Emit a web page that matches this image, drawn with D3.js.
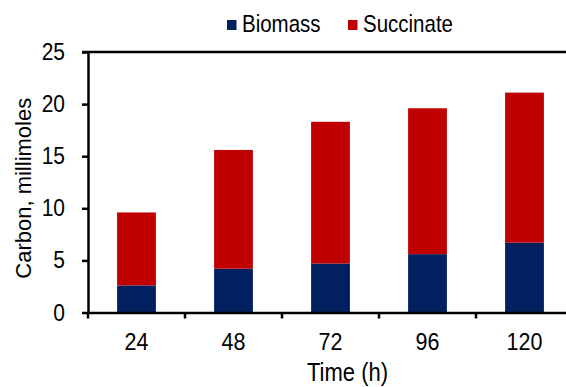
<!DOCTYPE html>
<html>
<head>
<meta charset="utf-8">
<script src="https://cdn.jsdelivr.net/npm/d3@7"></script>
<style>
  html, body { margin: 0; padding: 0; background: #fff; }
  svg { display: block; font-family: "Liberation Sans", Arial, sans-serif; }
</style>
</head>
<body>
<div id="chart"></div>
<script>
// chart data
const times = ['24', '48', '72', '96', '120'];
const biomass = [2.6, 4.2, 4.7, 5.6, 6.7];
const succinate = [7.0, 11.4, 13.6, 14.0, 14.4];
const yTicks = [0, 5, 10, 15, 20, 25];
const seriesNames = ['Biomass', 'Succinate'];
const seriesColors = ['#002060', '#c00000'];

const width = 566;
const height = 387;
const margin = { top: 52, left: 88, bottom: 74 };
const stretch = 1.15; // the original text is a bit taller than wide

const svg = d3.select('#chart')
  .append('svg')
  .attr('width', width)
  .attr('height', height);

const plotRight = 573; // plot runs slightly past the window edge
const plotBottom = height - margin.bottom - 0.5;

const rows = times.map((t, i) => ({ time: t, Biomass: biomass[i], Succinate: succinate[i] }));
const stacked = d3.stack().keys(seriesNames)(rows);

const x = d3.scaleBand()
  .domain(times)
  .range([margin.left, plotRight])
  .paddingInner(0.6)
  .paddingOuter(0.3);

const y = d3.scaleLinear()
  .domain([0, 25])
  .range([plotBottom, margin.top]);

// text drawn at (tx, ty) baseline, stretched vertically
function label(g, tx, ty, str, size, anchor) {
  return g.append('text')
    .attr('transform', `translate(${tx},${ty}) scale(1,${stretch})`)
    .attr('text-anchor', anchor || 'start')
    .attr('font-size', size)
    .attr('fill', '#000')
    .text(str);
}

// bars
svg.append('g')
  .selectAll('g')
  .data(stacked)
  .join('g')
  .attr('fill', (d, i) => seriesColors[i])
  .selectAll('rect')
  .data(d => d)
  .join('rect')
  .attr('x', d => x(d.data.time))
  .attr('y', d => y(d[1]))
  .attr('width', x.bandwidth())
  .attr('height', d => y(d[0]) - y(d[1]));

// top border line
svg.append('line')
  .attr('x1', margin.left - 6)
  .attr('x2', width)
  .attr('y1', y(25))
  .attr('y2', y(25))
  .attr('stroke', '#000')
  .attr('stroke-width', 2.5);

// y axis
svg.append('g')
  .attr('transform', `translate(${margin.left},0)`)
  .call(d3.axisLeft(y).tickValues(yTicks).tickSize(6).tickSizeOuter(0).tickFormat(''))
  .call(g => g.select('.domain').attr('stroke-width', 2.5))
  .call(g => g.selectAll('.tick line').attr('stroke-width', 2.5));

const yLabels = svg.append('g');
yTicks.forEach(v => label(yLabels, 65, y(v) + 8, String(v), 21, 'end'));

// x axis: labels at band centres, ticks at band edges
const xAxis = svg.append('g')
  .attr('transform', `translate(0,${plotBottom})`)
  .call(d3.axisBottom(x).tickSize(0).tickSizeOuter(0).tickFormat(''))
  .call(g => g.select('.domain').attr('stroke-width', 2.5));

xAxis.selectAll('.edge')
  .data(d3.range(times.length + 1))
  .join('line')
  .attr('class', 'edge')
  .attr('x1', i => margin.left + i * x.step())
  .attr('x2', i => margin.left + i * x.step())
  .attr('y1', 0)
  .attr('y2', 6)
  .attr('stroke', '#000')
  .attr('stroke-width', 2.5);

const xLabels = svg.append('g');
times.forEach(t => label(xLabels, x(t) + x.bandwidth() / 2, 350, t, 21.5, 'middle'));

// axis titles
label(svg, 307, 381, 'Time (h)', 22);

svg.append('text')
  .attr('transform', `translate(31,${(y(0) + y(25)) / 2 + 6}) rotate(-90)`)
  .attr('text-anchor', 'middle')
  .attr('font-size', 22)
  .text('Carbon, millimoles');

// legend
const legendX = [227, 348];
seriesNames.forEach((name, i) => {
  const g = svg.append('g').attr('transform', `translate(${legendX[i]},0)`);
  g.append('rect')
    .attr('y', 20)
    .attr('width', 9.5)
    .attr('height', 10)
    .attr('fill', seriesColors[i]);
  label(g, 15, 32, name, 20.5);
});
</script>
</body>
</html>
